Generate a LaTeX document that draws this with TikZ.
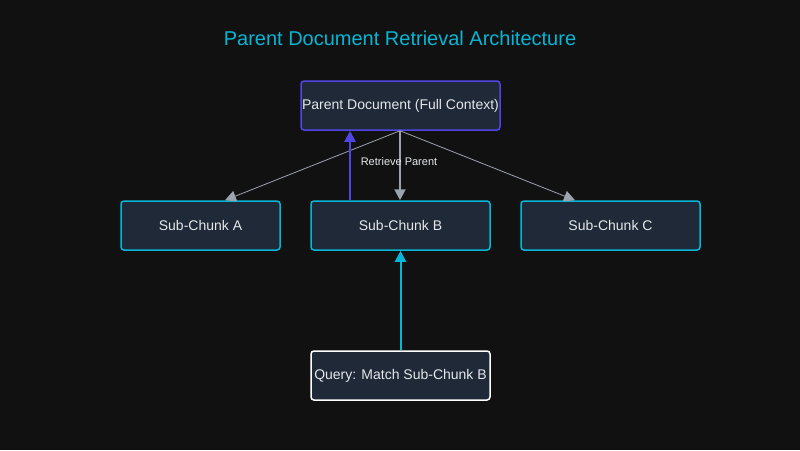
\documentclass[tikz,border=0pt]{standalone}
\usepackage{fontspec}
\setmainfont{Liberation Sans}
\usetikzlibrary{arrows.meta,calc}
\definecolor{bg}{HTML}{111111}
\definecolor{nodefill}{HTML}{1F2937}
\definecolor{cyanc}{HTML}{06B6D4}
\definecolor{purp}{HTML}{4F46E5}
\definecolor{grayc}{HTML}{9CA3AF}
\definecolor{txt}{HTML}{E5E7EB}
\tikzset{
  box/.style={draw, line width=1.5pt, fill=nodefill, rounded corners=3pt, minimum height=49pt, text=txt, font=\fontsize{14}{16}\selectfont, inner sep=0pt},
  tip/.style={-{Triangle[width=11pt,length=11pt]}},
}
\begin{document}
\begin{tikzpicture}[x=1pt,y=-1pt]
\fill[bg] (0,0) rectangle (800,450);
\useasboundingbox (0,0) rectangle (800,450);
\node[text=cyanc, font=\fontsize{20}{22}\selectfont] (title) at (400,38) {Parent Document Retrieval Architecture};
\node[box, draw=purp, minimum width=199pt] (P) at (400.5,105.5) {Parent Document (Full Context)};
\node[box, draw=cyanc, minimum width=159pt] (A) at (200.5,225.5) {Sub-Chunk A};
\node[box, draw=cyanc, minimum width=179pt] (B) at (400.5,225.5) {Sub-Chunk B};
\node[box, draw=cyanc, minimum width=179pt] (C) at (610.5,225.5) {Sub-Chunk C};
\node[box, draw=white, minimum width=179pt] (Q) at (400.5,375.5) {Query: Match Sub-Chunk B};
\coordinate (Pb) at ($(P.south)+(-0.5,0)$);
\coordinate (At) at ($(A.north)+(24.5,0)$);
\coordinate (Ct) at ($(C.north)+(-35.5,0)$);
\draw[tip, line width=0.8pt, color=grayc] (Pb) -- (At);
\draw[tip, line width=0.8pt, color=grayc] (Pb) -- (Ct);
\draw[tip, line width=2pt, color=grayc] (Pb) -- (Pb |- B.north);
\node[text=txt, font=\fontsize{11}{13}\selectfont] (lbl) at (399,162) {Retrieve Parent};
\draw[tip, line width=2pt, color=purp] ($(B.north)+(-50.5,0)$) -- ($(P.south)+(-50.5,0)$);
\draw[tip, line width=2pt, color=cyanc] (Q.north) -- (B.south);
\end{tikzpicture}
\end{document}
